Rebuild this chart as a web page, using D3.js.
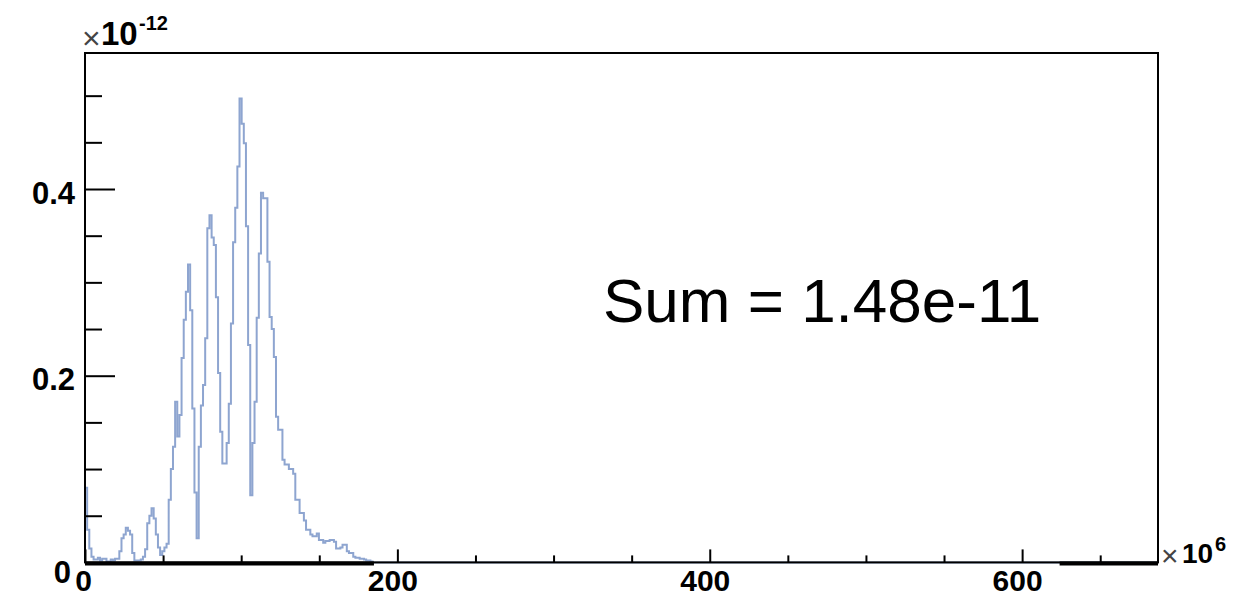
<!DOCTYPE html>
<html>
<head>
<meta charset="utf-8">
<script src="https://cdn.jsdelivr.net/npm/d3@7"></script>
<style>
  html, body { margin: 0; padding: 0; background: #fff; }
  svg { display: block; font-family: "Liberation Sans", Arial, Helvetica, sans-serif; }
</style>
</head>
<body>
<svg id="chart" width="1236" height="598"></svg>
<script>
// Histogram: 500 bins over [0, 687] (x in units of 10^6), contents in units of 10^-12
const xRange = [0, 687];
const binWidth = 1.374;
const binValues = [
  0.080, 0.035, 0.015, 0.006, 0.003, 0.003, 0.005, 0.002, 0.004, 0.004,
  0.001, 0.001, 0.003, 0.002, 0.004, 0.004, 0.012, 0.026, 0.030, 0.037,
  0.034, 0.030, 0.010, 0.002, 0.002, 0.002, 0.003, 0.006, 0.014, 0.042,
  0.050, 0.058, 0.047, 0.030, 0.016, 0.008, 0.012, 0.016, 0.020, 0.067,
  0.100, 0.124, 0.172, 0.135, 0.158, 0.219, 0.260, 0.290, 0.319, 0.270,
  0.165, 0.075, 0.026, 0.124, 0.168, 0.190, 0.240, 0.358, 0.372, 0.348,
  0.340, 0.284, 0.203, 0.140, 0.106, 0.106, 0.128, 0.170, 0.256, 0.343,
  0.380, 0.424, 0.497, 0.470, 0.449, 0.360, 0.233, 0.072, 0.128, 0.172,
  0.262, 0.331, 0.396, 0.390, 0.390, 0.322, 0.263, 0.250, 0.220, 0.156,
  0.142, 0.142, 0.110, 0.105, 0.105, 0.100, 0.100, 0.095, 0.067, 0.067,
  0.053, 0.053, 0.045, 0.035, 0.035, 0.030, 0.028, 0.028, 0.031, 0.024,
  0.024, 0.021, 0.023, 0.023, 0.024, 0.024, 0.022, 0.015, 0.015, 0.016,
  0.019, 0.019, 0.012, 0.010, 0.010, 0.006, 0.005, 0.005, 0.004, 0.004,
  0.003, 0.002, 0.002, 0.001, 0.000
];

// Second (black) histogram that stays at zero: stretches drawn along the baseline
const blackSegments = [[0, 185], [624, 687]];

// Axis ticks
const xMajorTicks = [0, 200, 400, 600];
const xMinorTicks = [50, 100, 150, 250, 300, 350, 450, 500, 550, 650];
const yMajorTicks = [0, 0.2, 0.4];
const yMinorTicks = [0.05, 0.1, 0.15, 0.25, 0.3, 0.35, 0.45, 0.5];
const yRange = [0, 0.5457];

const svg = d3.select("#chart");
const frame = { left: 85, right: 1158, top: 53, bottom: 562.4 };

const x = d3.scaleLinear().domain(xRange).range([frame.left, frame.right]);
const y = d3.scaleLinear().domain(yRange).range([frame.bottom, frame.top]);

// Histogram outline as a step line
const pts = [[0, 0]];
binValues.forEach((v, i) => pts.push([i * binWidth, v]));
pts.push([binValues.length * binWidth, 0]);
pts.push([xRange[1], 0]);

const line = d3.line()
  .x(d => x(d[0]))
  .y(d => y(d[1]))
  .curve(d3.curveStepAfter);

svg.append("path")
  .datum(pts)
  .attr("d", line)
  .attr("fill", "none")
  .attr("stroke", "#8ea5d0")
  .attr("stroke-width", 2)
  .attr("stroke-linejoin", "miter");

// Black zero-level stretches
svg.append("g").selectAll("line")
  .data(blackSegments)
  .join("line")
  .attr("x1", d => x(d[0]))
  .attr("x2", d => x(d[1]))
  .attr("y1", y(0) + 1)
  .attr("y2", y(0) + 1)
  .attr("stroke", "#000")
  .attr("stroke-width", 4);

// Frame
svg.append("rect")
  .attr("x", frame.left)
  .attr("y", frame.top)
  .attr("width", frame.right - frame.left)
  .attr("height", frame.bottom - frame.top)
  .attr("fill", "none")
  .attr("stroke", "#000")
  .attr("stroke-width", 2);

// X axis (ticks point into the frame)
const gxMinor = svg.append("g")
  .attr("transform", `translate(0,${y(0)})`)
  .call(d3.axisBottom(x).tickValues(xMinorTicks).tickSize(-7).tickFormat(""));
const gxMajor = svg.append("g")
  .attr("transform", `translate(0,${y(0)})`)
  .call(d3.axisBottom(x).tickValues(xMajorTicks).tickSize(-13).tickFormat(d3.format("d")));

// Y axis
const gyMinor = svg.append("g")
  .attr("transform", `translate(${x(0)},0)`)
  .call(d3.axisLeft(y).tickValues(yMinorTicks).tickSize(-17).tickFormat(""));
const gyMajor = svg.append("g")
  .attr("transform", `translate(${x(0)},0)`)
  .call(d3.axisLeft(y).tickValues(yMajorTicks).tickSize(-30)
    .tickFormat(d => d === 0 ? "0" : d3.format(".1f")(d)));

[gxMinor, gxMajor, gyMinor, gyMajor].forEach(g => {
  g.select(".domain").remove();
  g.selectAll(".tick line").attr("stroke", "#000").attr("stroke-width", 2);
});

gxMajor.selectAll(".tick text")
  .attr("y", 29).attr("dy", 0).attr("dx", d => d === 0 ? -2 : -5)
  .attr("fill", "#000")
  .style("font-family", "'Liberation Sans', Arial, Helvetica, sans-serif")
  .style("font-size", "30px").style("font-weight", "bold");

gyMajor.selectAll(".tick text")
  .attr("x", d => d === 0 ? -14 : -10)
  .attr("dy", d => d === 0 ? 20 : 14)
  .attr("fill", "#000")
  .style("font-family", "'Liberation Sans', Arial, Helvetica, sans-serif")
  .style("font-size", "31px").style("font-weight", "bold");

// Axis multipliers
const yMult = svg.append("g");
yMult.append("text").attr("x", 82).attr("y", 49)
  .attr("fill", "#444").style("font-size", "32px").text("×");
yMult.append("text").attr("x", 101).attr("y", 45)
  .attr("fill", "#000").style("font-size", "33px").style("font-weight", "bold").text("10");
yMult.append("text").attr("x", 139).attr("y", 30)
  .attr("fill", "#000").style("font-size", "20px").style("font-weight", "bold").text("-12");

const xMult = svg.append("g");
xMult.append("text").attr("x", 1161).attr("y", 566)
  .attr("fill", "#444").style("font-size", "30px").text("×");
xMult.append("text").attr("x", 1182).attr("y", 563)
  .attr("fill", "#000").style("font-size", "28px").style("font-weight", "bold").text("10");
xMult.append("text").attr("x", 1215).attr("y", 551)
  .attr("fill", "#000").style("font-size", "20px").style("font-weight", "bold").text("6");

// Integral of the histogram
const total = d3.sum(binValues) * 1e-12;
svg.append("text")
  .attr("x", 603).attr("y", 322)
  .attr("fill", "#000")
  .style("font-size", "62px")
  .text("Sum = " + total.toExponential(2));
</script>
</body>
</html>
